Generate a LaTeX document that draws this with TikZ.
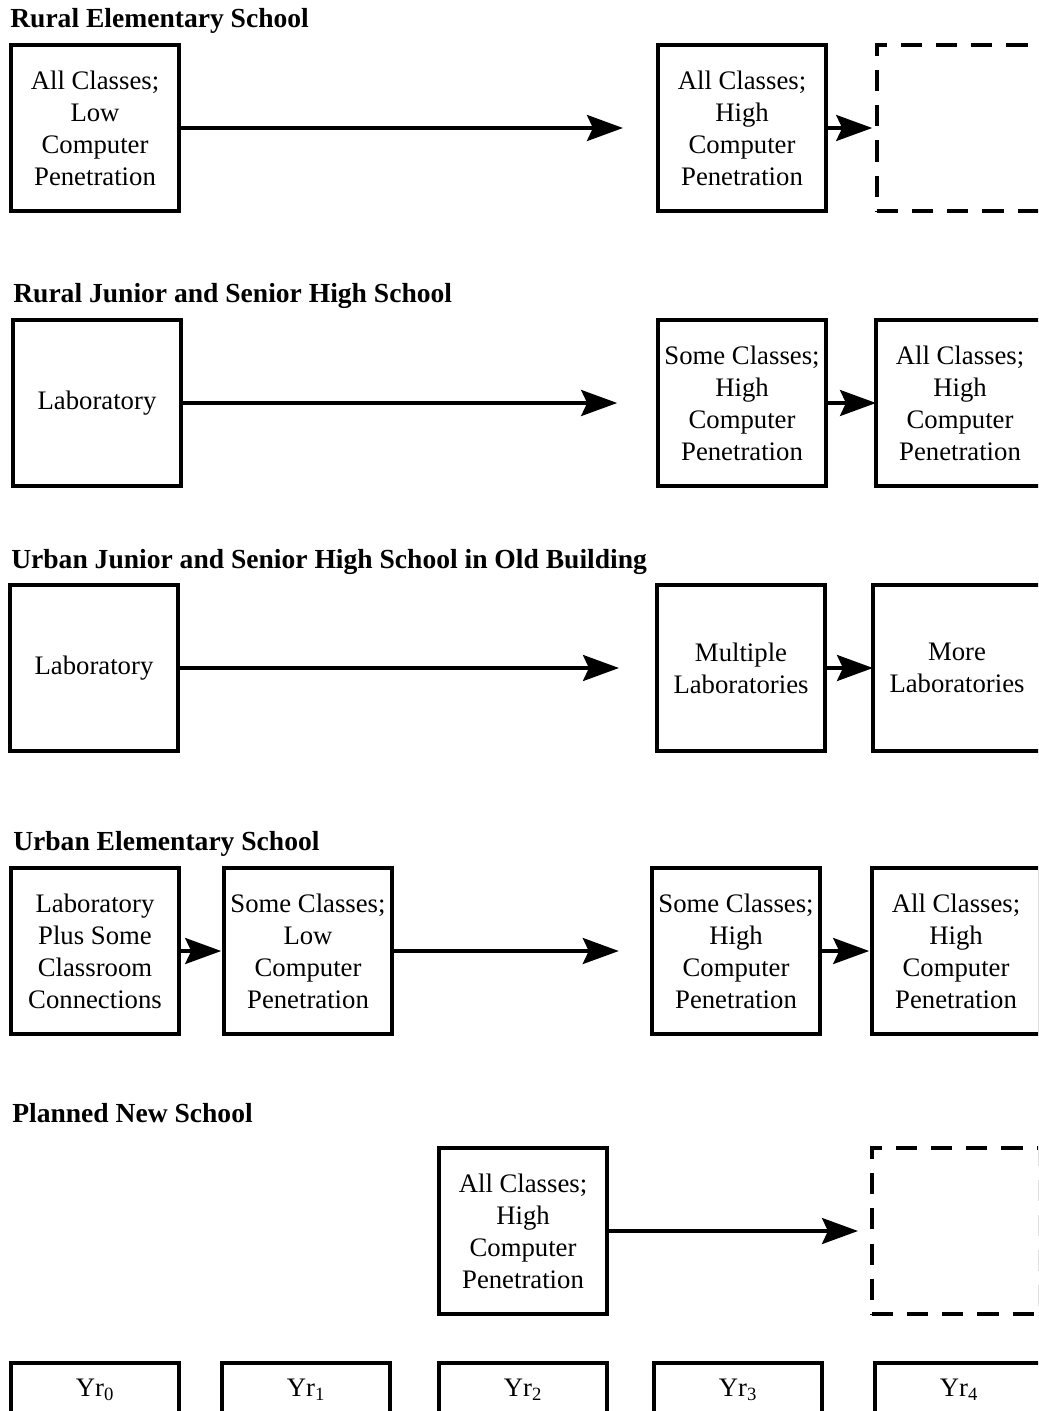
\documentclass[tikz,border=0pt]{standalone}
\usepackage{fontspec}
\setmainfont{Liberation Serif}
\usetikzlibrary{arrows.meta}

\tikzset{
  stage/.style={draw, line width=2.4pt, minimum width=4.2cm, minimum height=4.15cm,
    inner sep=0pt, outer sep=0pt, align=center, font=\fontsize{19}{22.7}\selectfont},
  plan/.style={stage, dash pattern=on 15pt off 10pt},
  yearbox/.style={stage, minimum height=1.35cm},
  heading/.style={anchor=base west, inner sep=0pt, font=\fontsize{19.6}{23}\selectfont\bfseries},
  arr/.style={-{Stealth[length=0.9cm,width=0.65cm,inset=0.15cm]}, line width=2.4pt},
}

\begin{document}
\begin{tikzpicture}[x=0.025cm, y=-0.025cm]
  \useasboundingbox (0,0) rectangle (1038,1411);
  \clip (0,0) rectangle (1038,1411);

  % rural elementary
  \node[heading] (t1) at (10,28) {Rural Elementary School};
  \node[stage] (a1) at (95,128) {All Classes;\\Low\\Computer\\Penetration};
  \node[stage] (b1) at (742,128) {All Classes;\\High\\Computer\\Penetration};
  \node[plan] (c1) at (961,128) {};
  \draw[arr, shorten >=0.875cm] (a1) -- (b1);
  \draw[arr, shorten >=0.12cm] (b1) -- (c1);

  % rural junior/senior high
  \node[heading] (t2) at (13,303) {Rural Junior and Senior High School};
  \node[stage] (a2) at (97,403) {Laboratory};
  \node[stage] (b2) at (742,403) {Some Classes;\\High\\Computer\\Penetration};
  \node[stage] (c2) at (960,403) {All Classes;\\High\\Computer\\Penetration};
  \draw[arr, shorten >=1.02cm] (a2) -- (b2);
  \draw[arr] (b2) -- (c2);

  % urban junior/senior high
  \node[heading] (t3) at (11,568) {Urban Junior and Senior High School in Old Building};
  \node[stage] (a3) at (94,668) {Laboratory};
  \node[stage] (b3) at (741,668) {Multiple\\Laboratories};
  \node[stage] (c3) at (957,668) {More\\Laboratories};
  \draw[arr, shorten >=0.95cm] (a3) -- (b3);
  \draw[arr] (b3) -- (c3);

  % urban elementary
  \node[heading] (t4) at (13,850) {Urban Elementary School};
  \node[stage] (a4) at (95,951) {Laboratory\\Plus Some\\Classroom\\Connections};
  \node[stage] (b4) at (308,951) {Some Classes;\\Low\\Computer\\Penetration};
  \node[stage] (c4) at (736,951) {Some Classes;\\High\\Computer\\Penetration};
  \node[stage] (d4) at (956,951) {All Classes;\\High\\Computer\\Penetration};
  \draw[arr, shorten >=0.07cm] (a4) -- (b4);
  \draw[arr, shorten >=0.83cm] (b4) -- (c4);
  \draw[arr, shorten >=0.07cm] (c4) -- (d4);

  % planned new school
  \node[heading] (t5) at (12,1122) {Planned New School};
  \node[stage] (a5) at (523,1231) {All Classes;\\High\\Computer\\Penetration};
  \node[plan] (c5) at (956,1231) {};
  \draw[arr, shorten >=0.35cm] (a5) -- (c5);

  % years
  \node[yearbox] (y0) at (95,1390) {Yr\textsubscript{0}};
  \node[yearbox] (y1) at (306,1390) {Yr\textsubscript{1}};
  \node[yearbox] (y2) at (523,1390) {Yr\textsubscript{2}};
  \node[yearbox] (y3) at (738,1390) {Yr\textsubscript{3}};
  \node[yearbox] (y4) at (959,1390) {Yr\textsubscript{4}};
\end{tikzpicture}
\end{document}
